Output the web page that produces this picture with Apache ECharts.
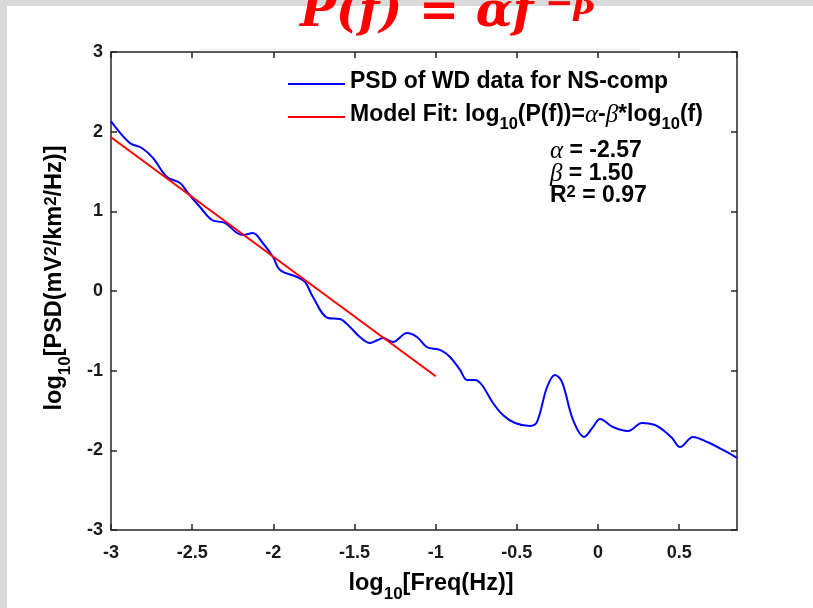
<!DOCTYPE html>
<html>
<head>
<meta charset="utf-8">
<script src="https://cdn.jsdelivr.net/npm/echarts@6/dist/echarts.min.js"></script>
<style>
  html, body { margin: 0; padding: 0; background: #ffffff; }
  #chart { width: 813px; height: 608px; }
</style>
</head>
<body>
<div id="chart"></div>
<script>
// Power spectral density of the WD record (NS component), log10-log10 space
const psdLogFreq = [
  -3.000, -2.884, -2.810, -2.742, -2.655, -2.575, -2.526, -2.452, -2.378, -2.298,
  -2.224, -2.187, -2.126, -2.070, -2.002, -1.959, -1.855, -1.805, -1.756, -1.664,
  -1.590, -1.528, -1.467, -1.405, -1.356, -1.325, -1.263, -1.177, -1.115, -1.054,
  -0.973, -0.912, -0.850, -0.807, -0.758, -0.715, -0.647, -0.586, -0.511, -0.419,
  -0.376, -0.314, -0.265, -0.222, -0.154, -0.086, -0.031, 0.012, 0.092, 0.185,
  0.271, 0.351, 0.400, 0.456, 0.505, 0.585, 0.672, 0.770, 0.856
];
const psdLogPower = [
  2.130, 1.858, 1.795, 1.670, 1.431, 1.356, 1.230, 1.054, 0.891, 0.854,
  0.728, 0.703, 0.728, 0.615, 0.427, 0.264, 0.176, 0.114, -0.075, -0.339,
  -0.351, -0.452, -0.577, -0.652, -0.615, -0.590, -0.640, -0.527, -0.577, -0.703,
  -0.740, -0.828, -0.990, -1.117, -1.117, -1.180, -1.406, -1.556, -1.657, -1.694,
  -1.644, -1.205, -1.054, -1.142, -1.619, -1.832, -1.707, -1.606, -1.707, -1.757,
  -1.657, -1.682, -1.745, -1.845, -1.958, -1.832, -1.895, -1.995, -2.096
];

// Fitted power-law model: log10(P) = alpha - beta * log10(f)
const ALPHA = -2.57;
const BETA = 1.50;
const R_SQUARED = 0.97;
const fitLogFreq = [-3, -1];

// Axis ranges
const xRange = [-3, 0.856];
const yRange = [-3, 3];

const SERIES_PSD = 'PSD of WD data for NS-comp';
const SERIES_FIT = 'Model Fit';

const SANS = '"Liberation Sans", Arial, sans-serif';
const SERIF = '"Liberation Serif", "Times New Roman", serif';
const AXIS_COLOR = '#262626';

const psdData = psdLogFreq.map((x, i) => [x, psdLogPower[i]]);
const fitData = fitLogFreq.map(x => [x, ALPHA - BETA * x]);

// legend / statistics text pieces: normal, subscript, superscript, greek
const richText = {
  n:   { fontFamily: SANS, fontWeight: 'bold', fontSize: 23, color: '#000', lineHeight: 28, verticalAlign: 'top' },
  sub: { fontFamily: SANS, fontWeight: 'bold', fontSize: 16.5, color: '#000', lineHeight: 17, verticalAlign: 'top', padding: [13, 0, 0, 0] },
  sup: { fontFamily: SANS, fontWeight: 'bold', fontSize: 16.5, color: '#000', lineHeight: 17, verticalAlign: 'top', padding: [0, 0, 0, 0] },
  g:   { fontFamily: SERIF, fontStyle: 'italic', fontSize: 25, color: '#000', lineHeight: 28, verticalAlign: 'top' }
};

const labelRich = {
  n:   { fontFamily: SANS, fontWeight: 'bold', fontSize: 23.5, color: '#000', lineHeight: 28, verticalAlign: 'top' },
  sub: { fontFamily: SANS, fontWeight: 'bold', fontSize: 17, color: '#000', lineHeight: 17, verticalAlign: 'top', padding: [14, 0, 0, 0] },
  sup: { fontFamily: SANS, fontWeight: 'bold', fontSize: 17, color: '#000', lineHeight: 17, verticalAlign: 'top', padding: [0, 0, 0, 0] }
};

const tickLabel = { fontFamily: SANS, fontWeight: 'bold', fontSize: 18, color: '#1a1a1a' };

const chart = echarts.init(document.getElementById('chart'), null, { renderer: 'canvas' });

chart.setOption({
  backgroundColor: '#ffffff',
  animation: false,
  grid: { left: 111, right: 76, top: 52, bottom: 78, containLabel: false },
  legend: {
    orient: 'vertical',
    left: 288,
    top: 70,
    padding: 0,
    icon: 'rect',
    itemWidth: 57,
    itemHeight: 2,
    itemGap: 10,
    selectedMode: false,
    data: [SERIES_PSD, SERIES_FIT],
    formatter: name => name === SERIES_PSD
      ? '{n|' + name + '}'
      : '{n|Model Fit: log}{sub|10}{n|(P(f))=}{g|α}{n|-}{g|β}{n|*log}{sub|10}{n|(f)}',
    textStyle: { rich: richText }
  },
  xAxis: [
    {
      type: 'value', min: xRange[0], max: xRange[1], interval: 0.5, position: 'bottom',
      name: '{n|log}{sub|10}{n|[Freq(Hz)]}',
      nameLocation: 'middle', nameGap: 42,
      nameTextStyle: { rich: labelRich, padding: [0, 0, 0, 14] },
      axisLine: { show: true, onZero: false, lineStyle: { color: AXIS_COLOR, width: 1.5 } },
      axisTick: { show: true, inside: true, length: 6, lineStyle: { color: AXIS_COLOR, width: 1.5 } },
      axisLabel: { ...tickLabel, margin: 14, showMaxLabel: false },
      splitLine: { show: false }
    },
    {
      type: 'value', min: xRange[0], max: xRange[1], interval: 0.5, position: 'top',
      axisLine: { show: true, onZero: false, lineStyle: { color: AXIS_COLOR, width: 1.5 } },
      axisTick: { show: true, inside: true, length: 6, lineStyle: { color: AXIS_COLOR, width: 1.5 } },
      axisLabel: { show: false },
      splitLine: { show: false }
    }
  ],
  yAxis: [
    {
      type: 'value', min: yRange[0], max: yRange[1], interval: 1, position: 'left',
      name: '{n|log}{sub|10}{n|[PSD(mV}{sup|2}{n|/km}{sup|2}{n|/Hz)]}',
      nameLocation: 'middle', nameRotate: 90, nameGap: 40,
      nameTextStyle: { rich: labelRich, padding: [0, 0, 0, 26] },
      axisLine: { show: true, onZero: false, lineStyle: { color: AXIS_COLOR, width: 1.5 } },
      axisTick: { show: true, inside: true, length: 6, lineStyle: { color: AXIS_COLOR, width: 1.5 } },
      axisLabel: { ...tickLabel, margin: 8 },
      splitLine: { show: false }
    },
    {
      type: 'value', min: yRange[0], max: yRange[1], interval: 1, position: 'right',
      axisLine: { show: true, onZero: false, lineStyle: { color: AXIS_COLOR, width: 1.5 } },
      axisTick: { show: true, inside: true, length: 6, lineStyle: { color: AXIS_COLOR, width: 1.5 } },
      axisLabel: { show: false },
      splitLine: { show: false }
    }
  ],
  series: [
    {
      name: SERIES_PSD, type: 'line', data: psdData, xAxisIndex: 0, yAxisIndex: 0,
      smooth: 0.35, symbol: 'none', silent: true,
      lineStyle: { color: '#0000ff', width: 2 }, itemStyle: { color: '#0000ff' }
    },
    {
      name: SERIES_FIT, type: 'line', data: fitData, xAxisIndex: 0, yAxisIndex: 0,
      symbol: 'none', silent: true,
      lineStyle: { color: '#ff0000', width: 2 }, itemStyle: { color: '#ff0000' }
    }
  ],
  graphic: [
    // window chrome strips
    { type: 'rect', shape: { x: 0, y: 0, width: 813, height: 6 }, style: { fill: '#d9d9d9' }, z: 0, silent: true },
    { type: 'rect', shape: { x: 0, y: 0, width: 7, height: 608 }, style: { fill: '#d9d9d9' }, z: 0, silent: true },
    { type: 'line', shape: { x1: 200, y1: 49.5, x2: 640, y2: 49.5 }, style: { stroke: '#ececec', lineWidth: 1 }, z: 0, silent: true },
    // power-law model heading
    {
      type: 'text', x: 300, y: 38, z: 10, silent: true,
      style: { text: 'P(f) = αf', fill: '#ff0000', font: 'italic bold 48px "DejaVu Serif", serif', verticalAlign: 'bottom' }
    },
    {
      type: 'text', x: 545, y: 22, z: 10, silent: true,
      style: { text: '−β', fill: '#ff0000', font: 'italic bold 34px "DejaVu Serif", serif', verticalAlign: 'bottom' }
    },
    // fit statistics
    {
      type: 'text', x: 550, y: 139, z: 10, silent: true,
      style: { text: '{g|α}{n| = ' + ALPHA.toFixed(2) + '}', rich: richText }
    },
    {
      type: 'text', x: 550, y: 162, z: 10, silent: true,
      style: { text: '{g|β}{n| = ' + BETA.toFixed(2) + '}', rich: richText }
    },
    {
      type: 'text', x: 550, y: 184, z: 10, silent: true,
      style: { text: '{n|R}{sup|2}{n| = ' + R_SQUARED.toFixed(2) + '}', rich: richText }
    }
  ]
});
</script>
</body>
</html>
